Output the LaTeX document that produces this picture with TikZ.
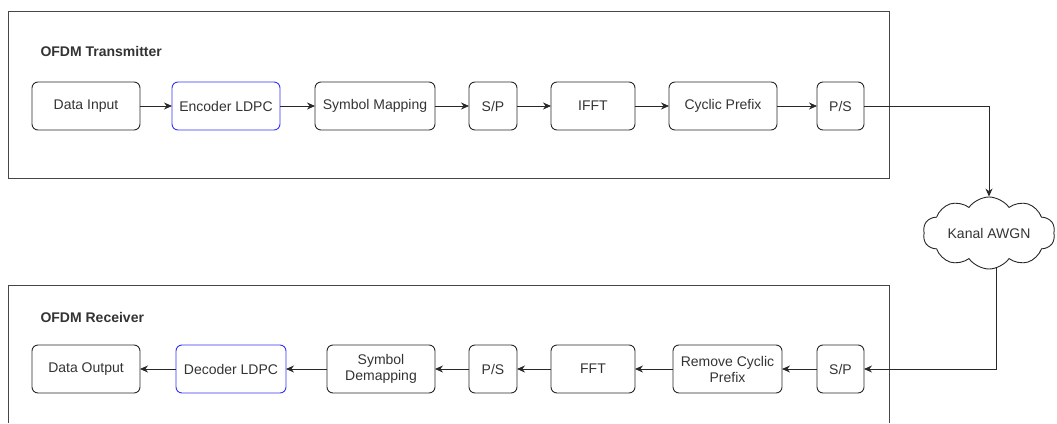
\documentclass[tikz,border=0pt]{standalone}
\usepackage{xcolor}
\usepackage{fontspec}
\setmainfont{Liberation Sans}
\usepackage{tikz}
\usetikzlibrary{shapes.symbols, arrows.meta, positioning}
\definecolor{linegray}{RGB}{40, 40, 40}
\definecolor{framegray}{RGB}{70, 70, 70}
\definecolor{ldpcblue}{RGB}{50, 50, 245}

\begin{document}
\begin{tikzpicture}[
    x=1pt, y=-1pt,
    font=\fontsize{14pt}{16pt}\selectfont,
    block/.style={rectangle, draw=linegray, line width=0.9pt,
                minimum height=48pt, inner sep=3pt, outer sep=0pt,
                text centered, rounded corners=6pt, text=black!80},
    ldpc/.style={block, draw=ldpcblue},
    frame/.style={draw=framegray, line width=0.9pt},
    title/.style={anchor=west, font=\fontsize{14pt}{16pt}\selectfont\bfseries, text=black!80},
    arrow/.style={-{Stealth[length=8pt, width=7pt]}, line width=0.9pt, linegray}
]
\useasboundingbox (0,0) rectangle (1057,423);

% transmitter
\draw[frame] (8,11) rectangle (889,178);
\node[title] (txtitle) at (37,51) {OFDM Transmitter};

\node[block, minimum width=108pt] (input) at (86,106) {Data Input};
\node[ldpc, minimum width=108pt, right=32pt of input] (encoder) {Encoder LDPC};
\node[block, minimum width=120pt, right=35pt of encoder] (mapping) {Symbol Mapping};
\node[block, minimum width=48pt, right=34pt of mapping] (txsp) {S/P};
\node[block, minimum width=84pt, right=34pt of txsp] (ifft) {IFFT};
\node[block, minimum width=108pt, right=34pt of ifft] (prefix) {Cyclic Prefix};
\node[block, minimum width=47pt, right=40pt of prefix] (txps) {P/S};

\draw[arrow] (input) -- (encoder);
\draw[arrow] (encoder) -- (mapping);
\draw[arrow] (mapping) -- (txsp);
\draw[arrow] (txsp) -- (ifft);
\draw[arrow] (ifft) -- (prefix);
\draw[arrow] (prefix) -- (txps);

% channel
\node[cloud, cloud ignores aspect, draw=linegray, line width=0.9pt, cloud puffs=10, cloud puff arc=110,
      inner sep=0pt, minimum width=132pt, minimum height=72pt, text=black!80] (channel) at (989,233) {Kanal AWGN};

\draw[arrow] (txps.east) -| (channel.north);

% receiver
\draw[frame] (8,423) |- (889,285) -- (889,423);
\node[title] (rxtitle) at (37,317) {OFDM Receiver};

\node[block, minimum width=108pt] (output) at (86,369) {Data Output};
\node[ldpc, minimum width=110pt, right=36pt of output] (decoder) {Decoder LDPC};
\node[block, minimum width=108pt, right=41pt of decoder, align=center] (demapping) {Symbol\\Demapping};
\node[block, minimum width=48pt, right=34pt of demapping] (rxps) {P/S};
\node[block, minimum width=84pt, right=34pt of rxps] (fft) {FFT};
\node[block, minimum width=109pt, right=38pt of fft, align=center] (remove) {Remove Cyclic\\Prefix};
\node[block, minimum width=47pt, right=35pt of remove] (rxsp) {S/P};

\draw[arrow] (channel.282) |- (rxsp.east);
\draw[arrow] (rxsp) -- (remove);
\draw[arrow] (remove) -- (fft);
\draw[arrow] (fft) -- (rxps);
\draw[arrow] (rxps) -- (demapping);
\draw[arrow] (demapping) -- (decoder);
\draw[arrow] (decoder) -- (output);

\end{tikzpicture}
\end{document}
